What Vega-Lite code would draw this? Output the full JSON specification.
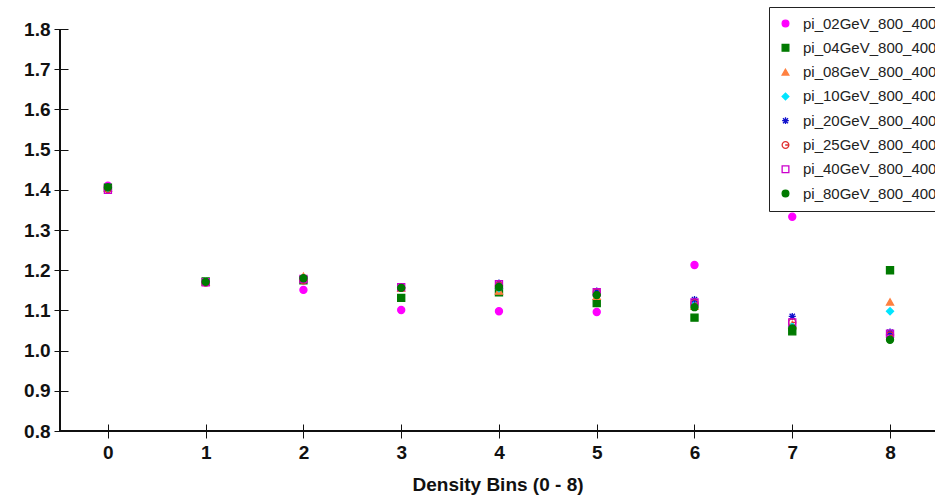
{
  "$schema": "https://vega.github.io/schema/vega-lite/v6.json",
  "width": 875,
  "height": 402,
  "autosize": {"type": "none"},
  "padding": {"left": 60, "top": 29, "right": 0, "bottom": 66},
  "background": "white",
  "config": {
    "view": {"stroke": null},
    "font": "Liberation Sans",
    "legend": {
      "orient": "none",
      "legendX": 709,
      "legendY": -22,
      "strokeColor": "#222",
      "fillColor": "white",
      "padding": 9,
      "rowPadding": 8.3,
      "labelFontSize": 15,
      "labelColor": "#222",
      "labelFont": "Liberation Sans",
      "labelLimit": 0,
      "labelOffset": 10,
      "symbolSize": 45,
      "symbolStrokeWidth": 1.3,
      "title": null
    }
  },
  "data": {
    "values": [
      {"bin": 0, "series": "pi_02GeV_800_4000", "ratio": 1.41},
      {"bin": 1, "series": "pi_02GeV_800_4000", "ratio": 1.17},
      {"bin": 2, "series": "pi_02GeV_800_4000", "ratio": 1.151},
      {"bin": 3, "series": "pi_02GeV_800_4000", "ratio": 1.101},
      {"bin": 4, "series": "pi_02GeV_800_4000", "ratio": 1.098},
      {"bin": 5, "series": "pi_02GeV_800_4000", "ratio": 1.096},
      {"bin": 6, "series": "pi_02GeV_800_4000", "ratio": 1.213},
      {"bin": 7, "series": "pi_02GeV_800_4000", "ratio": 1.333},
      {"bin": 8, "series": "pi_02GeV_800_4000", "ratio": 1.04},

      {"bin": 0, "series": "pi_04GeV_800_4000", "ratio": 1.405},
      {"bin": 1, "series": "pi_04GeV_800_4000", "ratio": 1.172},
      {"bin": 2, "series": "pi_04GeV_800_4000", "ratio": 1.175},
      {"bin": 3, "series": "pi_04GeV_800_4000", "ratio": 1.131},
      {"bin": 4, "series": "pi_04GeV_800_4000", "ratio": 1.145},
      {"bin": 5, "series": "pi_04GeV_800_4000", "ratio": 1.118},
      {"bin": 6, "series": "pi_04GeV_800_4000", "ratio": 1.082},
      {"bin": 7, "series": "pi_04GeV_800_4000", "ratio": 1.048},
      {"bin": 8, "series": "pi_04GeV_800_4000", "ratio": 1.2},

      {"bin": 0, "series": "pi_08GeV_800_4000", "ratio": 1.404},
      {"bin": 1, "series": "pi_08GeV_800_4000", "ratio": 1.171},
      {"bin": 2, "series": "pi_08GeV_800_4000", "ratio": 1.185},
      {"bin": 3, "series": "pi_08GeV_800_4000", "ratio": 1.155},
      {"bin": 4, "series": "pi_08GeV_800_4000", "ratio": 1.148},
      {"bin": 5, "series": "pi_08GeV_800_4000", "ratio": 1.135},
      {"bin": 6, "series": "pi_08GeV_800_4000", "ratio": 1.11},
      {"bin": 7, "series": "pi_08GeV_800_4000", "ratio": 1.065},
      {"bin": 8, "series": "pi_08GeV_800_4000", "ratio": 1.121},

      {"bin": 0, "series": "pi_10GeV_800_4000", "ratio": 1.405},
      {"bin": 1, "series": "pi_10GeV_800_4000", "ratio": 1.171},
      {"bin": 2, "series": "pi_10GeV_800_4000", "ratio": 1.18},
      {"bin": 3, "series": "pi_10GeV_800_4000", "ratio": 1.157},
      {"bin": 4, "series": "pi_10GeV_800_4000", "ratio": 1.155},
      {"bin": 5, "series": "pi_10GeV_800_4000", "ratio": 1.14},
      {"bin": 6, "series": "pi_10GeV_800_4000", "ratio": 1.115},
      {"bin": 7, "series": "pi_10GeV_800_4000", "ratio": 1.06},
      {"bin": 8, "series": "pi_10GeV_800_4000", "ratio": 1.098},

      {"bin": 0, "series": "pi_20GeV_800_4000", "ratio": 1.408},
      {"bin": 1, "series": "pi_20GeV_800_4000", "ratio": 1.172},
      {"bin": 2, "series": "pi_20GeV_800_4000", "ratio": 1.18},
      {"bin": 3, "series": "pi_20GeV_800_4000", "ratio": 1.158},
      {"bin": 4, "series": "pi_20GeV_800_4000", "ratio": 1.168},
      {"bin": 5, "series": "pi_20GeV_800_4000", "ratio": 1.148},
      {"bin": 6, "series": "pi_20GeV_800_4000", "ratio": 1.127},
      {"bin": 7, "series": "pi_20GeV_800_4000", "ratio": 1.085},
      {"bin": 8, "series": "pi_20GeV_800_4000", "ratio": 1.046},

      {"bin": 0, "series": "pi_25GeV_800_4000", "ratio": 1.402},
      {"bin": 1, "series": "pi_25GeV_800_4000", "ratio": 1.169},
      {"bin": 2, "series": "pi_25GeV_800_4000", "ratio": 1.175},
      {"bin": 3, "series": "pi_25GeV_800_4000", "ratio": 1.156},
      {"bin": 4, "series": "pi_25GeV_800_4000", "ratio": 1.162},
      {"bin": 5, "series": "pi_25GeV_800_4000", "ratio": 1.145},
      {"bin": 6, "series": "pi_25GeV_800_4000", "ratio": 1.118},
      {"bin": 7, "series": "pi_25GeV_800_4000", "ratio": 1.07},
      {"bin": 8, "series": "pi_25GeV_800_4000", "ratio": 1.038},

      {"bin": 0, "series": "pi_40GeV_800_4000", "ratio": 1.4},
      {"bin": 1, "series": "pi_40GeV_800_4000", "ratio": 1.17},
      {"bin": 2, "series": "pi_40GeV_800_4000", "ratio": 1.178},
      {"bin": 3, "series": "pi_40GeV_800_4000", "ratio": 1.158},
      {"bin": 4, "series": "pi_40GeV_800_4000", "ratio": 1.165},
      {"bin": 5, "series": "pi_40GeV_800_4000", "ratio": 1.145},
      {"bin": 6, "series": "pi_40GeV_800_4000", "ratio": 1.12},
      {"bin": 7, "series": "pi_40GeV_800_4000", "ratio": 1.07},
      {"bin": 8, "series": "pi_40GeV_800_4000", "ratio": 1.042},

      {"bin": 0, "series": "pi_80GeV_800_4000", "ratio": 1.406},
      {"bin": 1, "series": "pi_80GeV_800_4000", "ratio": 1.171},
      {"bin": 2, "series": "pi_80GeV_800_4000", "ratio": 1.18},
      {"bin": 3, "series": "pi_80GeV_800_4000", "ratio": 1.156},
      {"bin": 4, "series": "pi_80GeV_800_4000", "ratio": 1.158},
      {"bin": 5, "series": "pi_80GeV_800_4000", "ratio": 1.138},
      {"bin": 6, "series": "pi_80GeV_800_4000", "ratio": 1.108},
      {"bin": 7, "series": "pi_80GeV_800_4000", "ratio": 1.055},
      {"bin": 8, "series": "pi_80GeV_800_4000", "ratio": 1.027}
    ]
  },
  "layer": [
    {
      "mark": {"type": "rule", "color": "#111", "strokeWidth": 1},
      "encoding": {"y": {"datum": 0.8, "type": "quantitative", "scale": {"domain": [0.8, 1.8]}}}
    },
    {
      "mark": {"type": "rule", "color": "#111", "strokeWidth": 1},
      "encoding": {"x": {"datum": -0.49, "type": "quantitative", "scale": {"domain": [-0.49, 8.46]}}}
    },
    {
      "mark": {"type": "point", "filled": true, "size": 50, "strokeWidth": 1.3, "opacity": 1},
      "encoding": {
        "x": {
          "field": "bin",
          "type": "quantitative",
          "scale": {"domain": [-0.49, 8.46], "nice": false, "zero": false},
          "axis": {
            "title": "Density Bins (0 - 8)",
            "titleFontSize": 19,
            "titleFontWeight": "bold",
            "titleColor": "#111",
            "titlePadding": 13,
            "values": [0, 1, 2, 3, 4, 5, 6, 7, 8],
            "format": "d",
            "offset": -7,
            "domain": false,
            "tickSize": 14,
            "tickColor": "#111",
            "tickWidth": 1,
            "labelFontSize": 19,
            "labelFontWeight": "bold",
            "labelColor": "#111",
            "labelPadding": 5,
            "grid": false
          }
        },
        "y": {
          "field": "ratio",
          "type": "quantitative",
          "scale": {"domain": [0.8, 1.8], "nice": false, "zero": false},
          "axis": {
            "title": null,
            "values": [0.8, 0.9, 1.0, 1.1, 1.2, 1.3, 1.4, 1.5, 1.6, 1.7, 1.8],
            "format": ".1f",
            "offset": -8,
            "domain": false,
            "tickColor": "#111",
            "tickSize": 14,
            "labelFontSize": 19,
            "labelFontWeight": "bold",
            "labelColor": "#111",
            "labelPadding": 4,
            "grid": false
          }
        },
        "shape": {
          "field": "series",
          "type": "nominal",
          "scale": {
            "range": [
              "circle",
              "square",
              "triangle-up",
              "diamond",
              "M-1,0L1,0M0,-1L0,1M-0.75,-0.75L0.75,0.75M-0.75,0.75L0.75,-0.75",
              "M1,0A1,1 0 1,1 -1,0A1,1 0 1,1 1,0M-0.1,0L1,0",
              "square",
              "circle"
            ]
          }
        },
        "fill": {
          "field": "series",
          "type": "nominal",
          "scale": {
            "range": ["#ff00ff", "#007a00", "#ff8040", "#00e5ff", "transparent", "transparent", "transparent", "#007a00"]
          }
        },
        "stroke": {
          "field": "series",
          "type": "nominal",
          "scale": {
            "range": ["#ff00ff", "#007a00", "#ff8040", "#00e5ff", "#1010cc", "#e03030", "#cc00cc", "#007a00"]
          }
        }
      }
    }
  ]
}
